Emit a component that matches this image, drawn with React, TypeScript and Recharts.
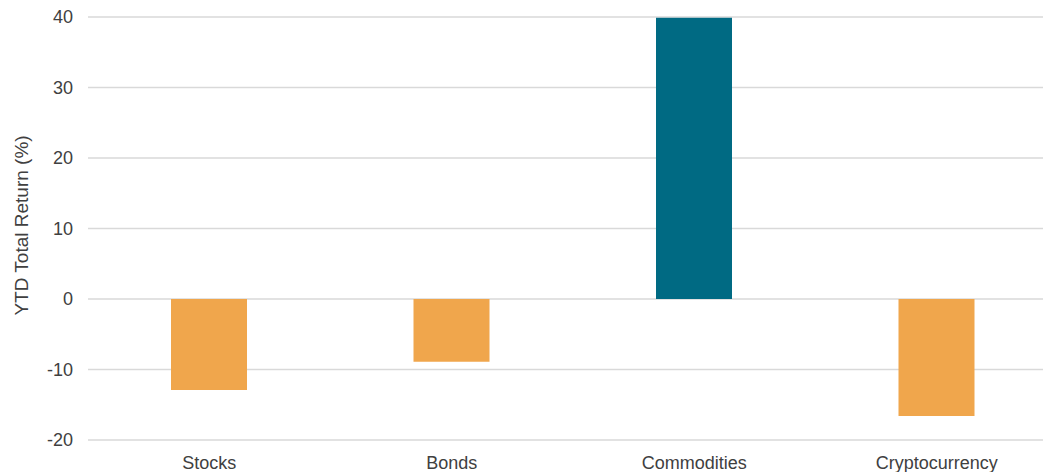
import { BarChart, Bar, XAxis, YAxis, CartesianGrid, Cell } from 'recharts';

const categories = ['Stocks', 'Bonds', 'Commodities', 'Cryptocurrency'];
const ytdReturns = [-12.9, -8.9, 39.9, -16.6];
const barColors = ['#F0A64C', '#F0A64C', '#006A83', '#F0A64C'];
const yTicks = [-20, -10, 0, 10, 20, 30, 40];

const chartData = categories.map((name, i) => ({ name, value: ytdReturns[i] }));

const textColor = '#404040';

// rotated axis title, centred on the plot height
const YLabel = (props: any) => {
    const vb = props.viewBox || {};
    const cy = (vb.y ?? 0) + (vb.height ?? 0) / 2 - 3;
    return (
        <text
            x={21}
            y={cy}
            transform={`rotate(-90, 21, ${cy})`}
            textAnchor='middle'
            dominantBaseline='central'
            fontSize={19}
            fill={textColor}
        >
            YTD Total Return (%)
        </text>
    );
};

export default function App() {
    return (
        <div
            style={{
                position: 'fixed',
                top: 0,
                left: 0,
                width: 1043,
                height: 472,
                overflow: 'hidden',
                background: '#fff',
                fontFamily: "'Liberation Sans', Arial, sans-serif",
            }}
        >
            <BarChart
                width={1060}
                height={472}
                data={chartData}
                margin={{ top: 17, right: 2, left: 1, bottom: 0 }}
                barSize={76}
            >
                <CartesianGrid horizontal vertical={false} stroke='#d9d9d9' strokeWidth={1.5} />
                <XAxis
                    dataKey='name'
                    axisLine={false}
                    tickLine={false}
                    tickSize={0}
                    tickMargin={16}
                    height={32}
                    interval={0}
                    tick={{ fontSize: 18, fill: textColor }}
                />
                <YAxis
                    domain={[-20, 40]}
                    ticks={yTicks}
                    axisLine={false}
                    tickLine={false}
                    tickSize={0}
                    tickMargin={15}
                    width={87}
                    tick={{ fontSize: 18, fill: textColor }}
                    label={<YLabel />}
                />
                <Bar dataKey='value' isAnimationActive={false}>
                    {chartData.map((d, i) => (
                        <Cell key={d.name} fill={barColors[i]} />
                    ))}
                </Bar>
            </BarChart>
        </div>
    );
}
